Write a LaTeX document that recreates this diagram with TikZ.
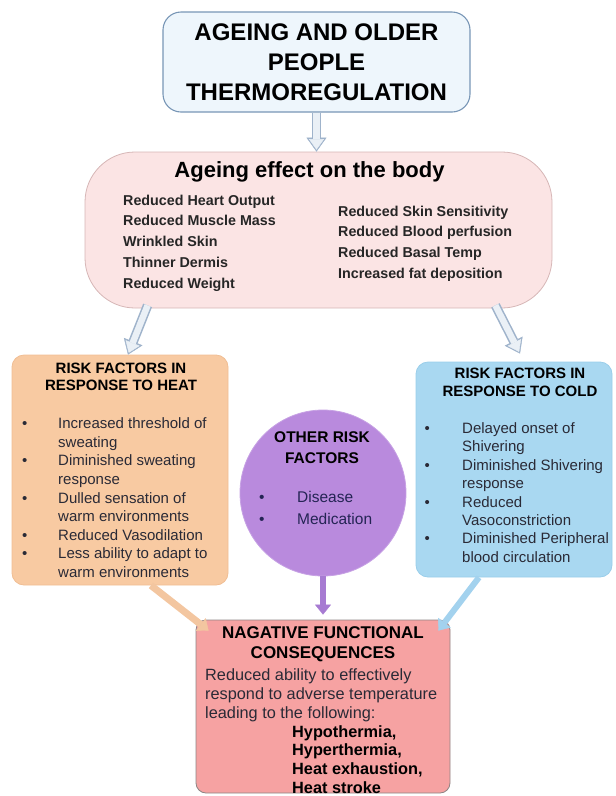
\documentclass[tikz,border=0pt]{standalone}
\usepackage{fontspec}
\setmainfont{Liberation Sans}
\usetikzlibrary{arrows.meta}
\tikzset{>=latex}
\definecolor{titlefill}{HTML}{EEF6FC}
\definecolor{titleline}{HTML}{7896B6}
\definecolor{bodyfill}{HTML}{FBE4E4}
\definecolor{bodyline}{HTML}{D6B6B6}
\definecolor{heatfill}{HTML}{F8CAA2}
\definecolor{heatline}{HTML}{F0BE94}
\definecolor{coldfill}{HTML}{A9D8F1}
\definecolor{coldline}{HTML}{9ACEEA}
\definecolor{otherfill}{HTML}{B98ADD}
\definecolor{otherline}{HTML}{C7A2E4}
\definecolor{conseqfill}{HTML}{F6A2A2}
\definecolor{conseqline}{HTML}{8E8484}
\definecolor{arrowedge}{HTML}{9FB3CB}
\definecolor{arrowfill}{HTML}{EAF0F6}
\definecolor{textdark}{HTML}{2A2A36}
\definecolor{heatarrow}{HTML}{F3C6A0}
\definecolor{coldarrow}{HTML}{A3D2EE}
\definecolor{otherarrow}{HTML}{A77BD2}
\newcommand{\fsz}[2]{\fontsize{#1}{#2}\selectfont}
\tikzstyle{box}=[rounded corners=12pt, line width=0.8pt]
\tikzstyle{txt}=[inner sep=0pt, text=textdark]
\tikzstyle{hollow}=[draw=arrowfill, line width=6.4pt, shorten >=2pt,
    -{Triangle[width=15pt,length=10.5pt,line width=0.4pt]},
    preaction={draw=arrowedge, line width=9.5pt, shorten >=0pt,
      -{Triangle[width=20pt,length=14pt,line width=0.4pt]}}]
\tikzstyle{thickarrow}=[line width=6pt, -{Triangle[width=16pt,length=10pt,line width=0.4pt]}]

\begin{document}
\begin{tikzpicture}[x=1pt, y=-1pt]
  \useasboundingbox (0,0) rectangle (616,796);

  % TITLE
  \node[box, rounded corners=18pt, fill=titlefill, draw=titleline, line width=1.1pt,
    minimum width=307pt, minimum height=100pt, align=center,
    font=\fsz{24}{30}\bfseries] (title) at (316.5,62)
    {AGEING AND OLDER\\PEOPLE\\THERMOREGULATION};

  % AGEING EFFECT
  \node[box, rounded corners=50pt, fill=bodyfill, draw=bodyline,
    minimum width=467pt, minimum height=156pt] (ageing) at (318.5,230) {};
  \node[txt, text=black, font=\fsz{22}{26}\bfseries] (ageinghead) at (309.5,172)
    {Ageing effect on the body};
  \node[txt, text=black!85, anchor=north west, align=left, font=\fsz{14.3}{20.8}\bfseries]
    (ageingleft) at (123,194.6)
    {Reduced Heart Output\\Reduced Muscle Mass\\Wrinkled Skin\\Thinner Dermis\\Reduced Weight};
  \node[txt, text=black!85, anchor=north west, align=left, font=\fsz{14.3}{20.7}\bfseries]
    (ageingright) at (338,205.7)
    {Reduced Skin Sensitivity\\Reduced Blood perfusion\\Reduced Basal Temp\\Increased fat deposition};

  % HEAT
  \node[box, fill=heatfill, draw=heatline, minimum width=216pt, minimum height=230pt]
    (heat) at (120,470) {};
  \node[txt, text=black, anchor=north, align=center, font=\fsz{15}{17}\bfseries]
    (heathead) at (121,362.6) {RISK FACTORS IN\\RESPONSE TO HEAT};
  \node[txt, anchor=north west] (heatlist) at (22,415.4) {\fsz{15}{18.6}%
    \begin{tabular}{@{}p{36pt}@{}l@{}}
      \textbullet & Increased threshold of\\
                  & sweating\\
      \textbullet & Diminished sweating\\
                  & response\\
      \textbullet & Dulled sensation of\\
                  & warm environments\\
      \textbullet & Reduced Vasodilation\\
      \textbullet & Less ability to adapt to\\
                  & warm environments
    \end{tabular}};

  % COLD
  \node[box, fill=coldfill, draw=coldline, minimum width=196pt, minimum height=215pt]
    (cold) at (514,469.5) {};
  \node[txt, text=black, anchor=north, align=center, font=\fsz{15}{18}\bfseries]
    (coldhead) at (520,367.6) {RISK FACTORS IN\\RESPONSE TO COLD};
  \node[txt, anchor=north west] (coldlist) at (424.5,420.5) {\fsz{15}{18.4}%
    \begin{tabular}{@{}p{37.5pt}@{}l@{}}
      \textbullet & Delayed onset of\\
                  & Shivering\\
      \textbullet & Diminished Shivering\\
                  & response\\
      \textbullet & Reduced\\
                  & Vasoconstriction\\
      \textbullet & Diminished Peripheral\\
                  & blood circulation
    \end{tabular}};

  % OTHER RISK FACTORS
  \node[circle, fill=otherfill, draw=otherline, line width=0.8pt, minimum size=166pt]
    (other) at (323,493) {};
  \node[txt, text=black, anchor=north, align=center, font=\fsz{15.5}{21}\bfseries]
    (otherhead) at (322,431.5) {OTHER RISK\\FACTORS};
  \node[txt, text=textdark!85!blue, anchor=north west] (otherlist) at (259,487.2) {\fsz{15.5}{22}%
    \begin{tabular}{@{}p{38pt}@{}l@{}}
      \textbullet & Disease\\
      \textbullet & Medication
    \end{tabular}};

  % CONSEQUENCES
  \node[box, rounded corners=10pt, fill=conseqfill, draw=conseqline,
    minimum width=254pt, minimum height=173pt] (conseq) at (323,706.5) {};
  \node[txt, text=black, anchor=north, align=center, font=\fsz{17}{20}\bfseries]
    (conseqhead) at (323,626.9) {NAGATIVE FUNCTIONAL\\CONSEQUENCES};
  \node[txt, anchor=north west, align=left, font=\fsz{16.3}{19}] (conseqbody) at (205,668.9)
    {Reduced ability to effectively\\respond to adverse temperature\\leading to the following:};
  \node[txt, text=black, anchor=north west, align=left, font=\fsz{16.3}{18.8}\bfseries]
    (conseqlist) at (292,725)
    {Hypothermia,\\Hyperthermia,\\Heat exhaustion,\\Heat stroke};

  % ARROWS
  \draw[hollow] (title.south) -- (title.south |- ageing.north);
  \draw[hollow] ([shift={(63,-3)}]ageing.south west) -- ([xshift=8pt]heat.north);
  \draw[hollow] ([shift={(-57,-3)}]ageing.south east) -- ([shift={(6,-8)}]cold.north);
  \draw[thickarrow, otherarrow, shorten >=5pt] (other.south) -- (conseq.north);
  \draw[thickarrow, heatarrow, line width=7pt] (heat.-75) -- ([shift={(13,11)}]conseq.north west);
  \draw[thickarrow, coldarrow] (cold.-108) -- ([shift={(-12,11)}]conseq.north east);

\end{tikzpicture}
\end{document}
